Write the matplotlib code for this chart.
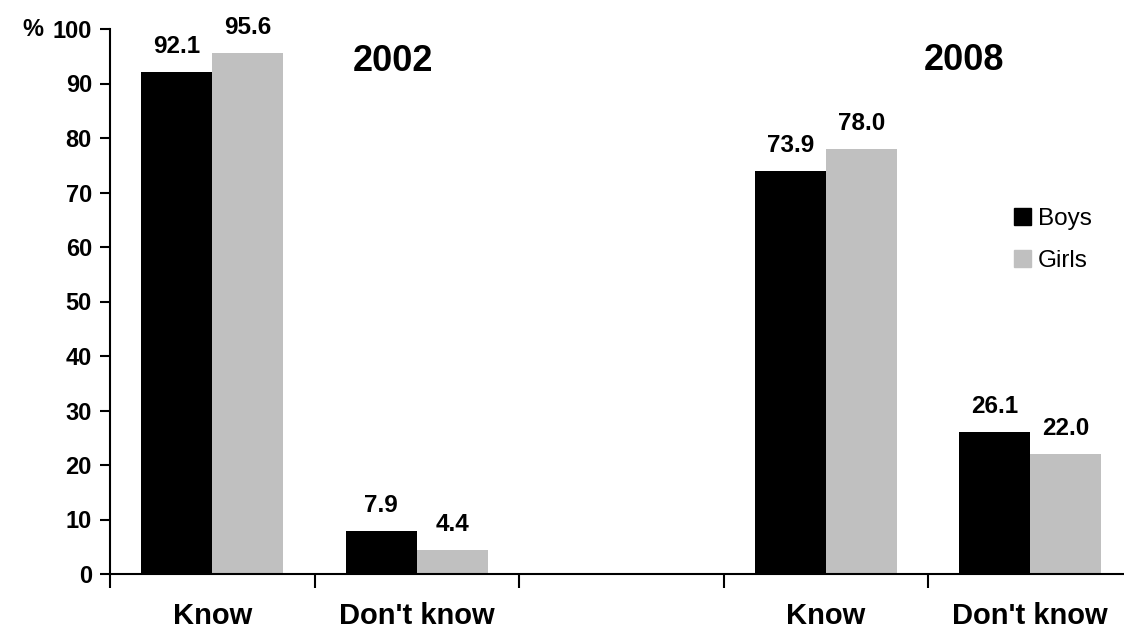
import matplotlib
matplotlib.use("Agg")
import matplotlib.pyplot as plt
import numpy as np
from matplotlib.patches import Patch

plt.rcParams['font.family'] = ['Liberation Sans', 'DejaVu Sans']

categories = ["Know", "Don't know", "", "Know", "Don't know"]
boys = [92.1, 7.9, None, 73.9, 26.1]
girls = [95.6, 4.4, None, 78.0, 22.0]
years = ["2002", "2008"]
yticks = list(range(0, 101, 10))

W, H = 1124, 631
fig = plt.figure(figsize=(W / 100, H / 100), dpi=100)
ax = fig.add_axes([110 / W, (H - 574) / H, 1022.5 / W, 545 / H])

bw = 0.347
for i, (b, g) in enumerate(zip(boys, girls)):
    if b is None:
        continue
    ax.bar(i - bw / 2, b, width=bw, color="black", linewidth=0)
    ax.bar(i + bw / 2, g, width=bw, color="#C0C0C0", linewidth=0)
    for x, v in ((i - bw / 2, b), (i + bw / 2, g)):
        ax.annotate(f"{v:.1f}", (x, v), xytext=(0, 13.5), textcoords="offset points",
                    ha="center", va="baseline", fontsize=17.5, fontweight="bold")

ax.set_xlim(-0.5, 4.5)
ax.set_ylim(0, 100)
ax.set_yticks(yticks)
ax.set_yticklabels([str(t) for t in yticks], fontsize=17, fontweight="bold")
ax.tick_params(axis="y", length=7, width=1.5, pad=6)

ax.set_xticks(np.arange(len(categories)))
ax.set_xticklabels(categories, fontsize=21, fontweight="bold")
ax.tick_params(axis="x", which="major", length=0, pad=20)
ax.set_xticks(np.arange(len(categories)) - 0.5, minor=True)
ax.tick_params(axis="x", which="minor", length=10, width=1.5, direction="out")

for s in ["top", "right"]:
    ax.spines[s].set_visible(False)
for s in ["left", "bottom"]:
    ax.spines[s].set_linewidth(1.5)

ax.text(-0.5 - 88 / 204.5, 100, "%", ha="left", va="center", fontsize=17, fontweight="bold",
        transform=ax.transData, clip_on=False)

ax.text(0.884, 94.0, years[0], ha="center", va="center", fontsize=26, fontweight="bold")
ax.text(3.676, 94.2, years[1], ha="center", va="center", fontsize=26, fontweight="bold")

handles = [Patch(color="black", label="Boys"), Patch(color="#C0C0C0", label="Girls")]
leg = ax.legend(handles=handles, loc="upper left", bbox_to_anchor=((1004 - 110) / 1022.5, (574 - 198) / 545),
                frameon=False, fontsize=17.5, handlelength=0.7, handleheight=0.7,
                handletextpad=0.3, labelspacing=0.82, borderaxespad=0)

fig.savefig("out.png", dpi=100)
